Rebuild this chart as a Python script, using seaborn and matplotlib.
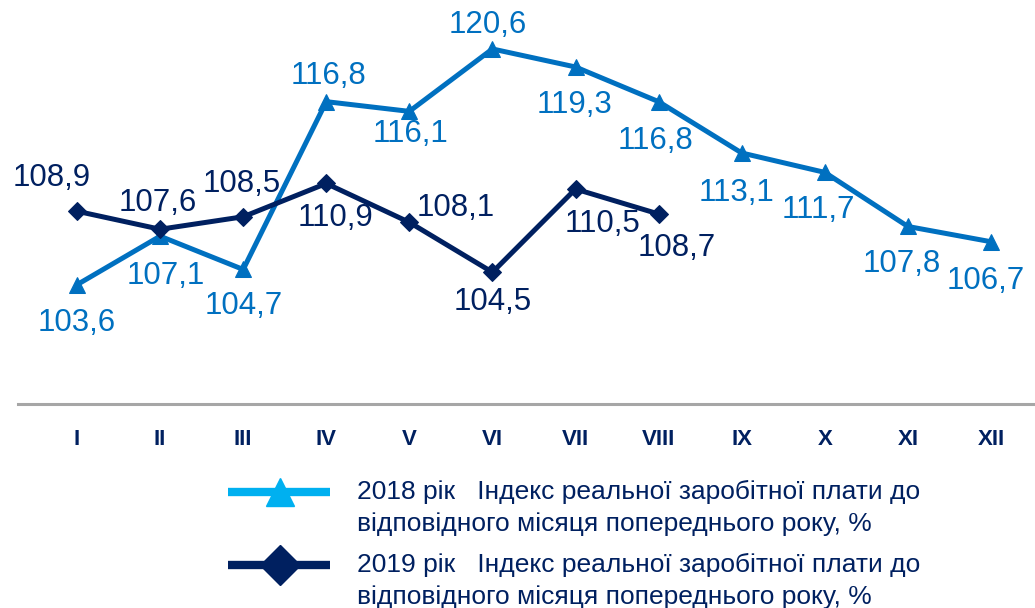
import matplotlib
matplotlib.use("Agg")
import matplotlib.pyplot as plt
from matplotlib import font_manager
from matplotlib.lines import Line2D
import seaborn as sns
import pandas as pd

months = ["I", "II", "III", "IV", "V", "VI", "VII", "VIII", "IX", "X", "XI", "XII"]
vals_2018 = [103.6, 107.1, 104.7, 116.8, 116.1, 120.6, 119.3, 116.8, 113.1, 111.7, 107.8, 106.7]
vals_2019 = [108.9, 107.6, 108.5, 110.9, 108.1, 104.5, 110.5, 108.7]
legend_2018 = "2018 рік   Індекс реальної заробітної плати до\nвідповідного місяця попереднього року, %"
legend_2019 = "2019 рік   Індекс реальної заробітної плати до\nвідповідного місяця попереднього року, %"

# label offsets in pixels (dx, dy)
offs_2018 = [(0, -38), (6, -40), (1, -37), (2, 26), (1, -23), (-5, 24),
             (-1, -38), (-3, -39), (-5, -40), (-6, -38), (-6, -38), (-5, -39)]
offs_2019 = [(-25, 33), (-2, 26), (-1, 33), (9, -35), (46, 14), (0, -30), (27, -35), (18, -34)]

C18 = "#0070C0"
C18_LEG = "#00B0F0"
C19 = "#002060"

sns.set_style("white")
names = {f.name for f in font_manager.fontManager.ttflist}
base_font = "Liberation Sans" if "Liberation Sans" in names else "DejaVu Sans"
narrow_font = "Liberation Sans Narrow" if "Liberation Sans Narrow" in names else base_font
plt.rcParams["font.family"] = [base_font, "DejaVu Sans"]

df18 = pd.DataFrame({"x": range(len(vals_2018)), "y": vals_2018})
df19 = pd.DataFrame({"x": range(len(vals_2019)), "y": vals_2019})

fig = plt.figure(figsize=(10.35, 6.08), dpi=100)
ax = fig.add_axes([18 / 1035, 1 - 404 / 608, 1 - 18 / 1035, 404 / 608])

sns.lineplot(data=df18, x="x", y="y", ax=ax, color=C18, linewidth=3.6,
             marker="^", markersize=11, markeredgecolor=C18, markerfacecolor=C18)
sns.lineplot(data=df19, x="x", y="y", ax=ax, color=C19, linewidth=3.6,
             marker="D", markersize=9, markeredgecolor=C19, markerfacecolor=C19)

for i, v in enumerate(vals_2018):
    ax.annotate(f"{v:.1f}".replace(".", ","), (i, v), xytext=offs_2018[i],
                textcoords="offset pixels", ha="center", va="center",
                fontsize=22.5, color=C18)
for i, v in enumerate(vals_2019):
    ax.annotate(f"{v:.1f}".replace(".", ","), (i, v), xytext=offs_2019[i],
                textcoords="offset pixels", ha="center", va="center",
                fontsize=22.5, color=C19)

ax.set_xlim(-0.71, 11.53)
ax.set_ylim(95, 124.13)
ax.set_xticks(range(len(months)))
ax.set_xticklabels(months, fontsize=16, fontweight="bold", color=C19, family=narrow_font)
ax.tick_params(axis="x", length=0, pad=18)
ax.set_yticks([])
ax.set_xlabel("")
ax.set_ylabel("")
for s in ["top", "left", "right"]:
    ax.spines[s].set_visible(False)
ax.spines["bottom"].set_color("#A6A6A6")
ax.spines["bottom"].set_linewidth(2.2)

# legend drawn in figure coordinates
W, H = 1035, 608
fig.add_artist(Line2D([228 / W, 330 / W], [1 - 492 / H] * 2, color=C18_LEG,
                      linewidth=6, solid_capstyle="butt"))
fig.add_artist(Line2D([280 / W], [1 - 492 / H], marker="^", markersize=20,
                      color=C18_LEG, linestyle="none"))
fig.add_artist(Line2D([228 / W, 330 / W], [1 - 565 / H] * 2, color=C19,
                      linewidth=6, solid_capstyle="butt"))
fig.add_artist(Line2D([280 / W], [1 - 565 / H], marker="D", markersize=20,
                      color=C19, linestyle="none"))
fig.text(357 / W, 1 - 508 / H, legend_2018, fontsize=19, color=C19, family=narrow_font,
         ha="left", va="center", linespacing=1.38)
fig.text(357 / W, 1 - 581 / H, legend_2019, fontsize=19, color=C19, family=narrow_font,
         ha="left", va="center", linespacing=1.38)

fig.savefig("out.png", dpi=100)
